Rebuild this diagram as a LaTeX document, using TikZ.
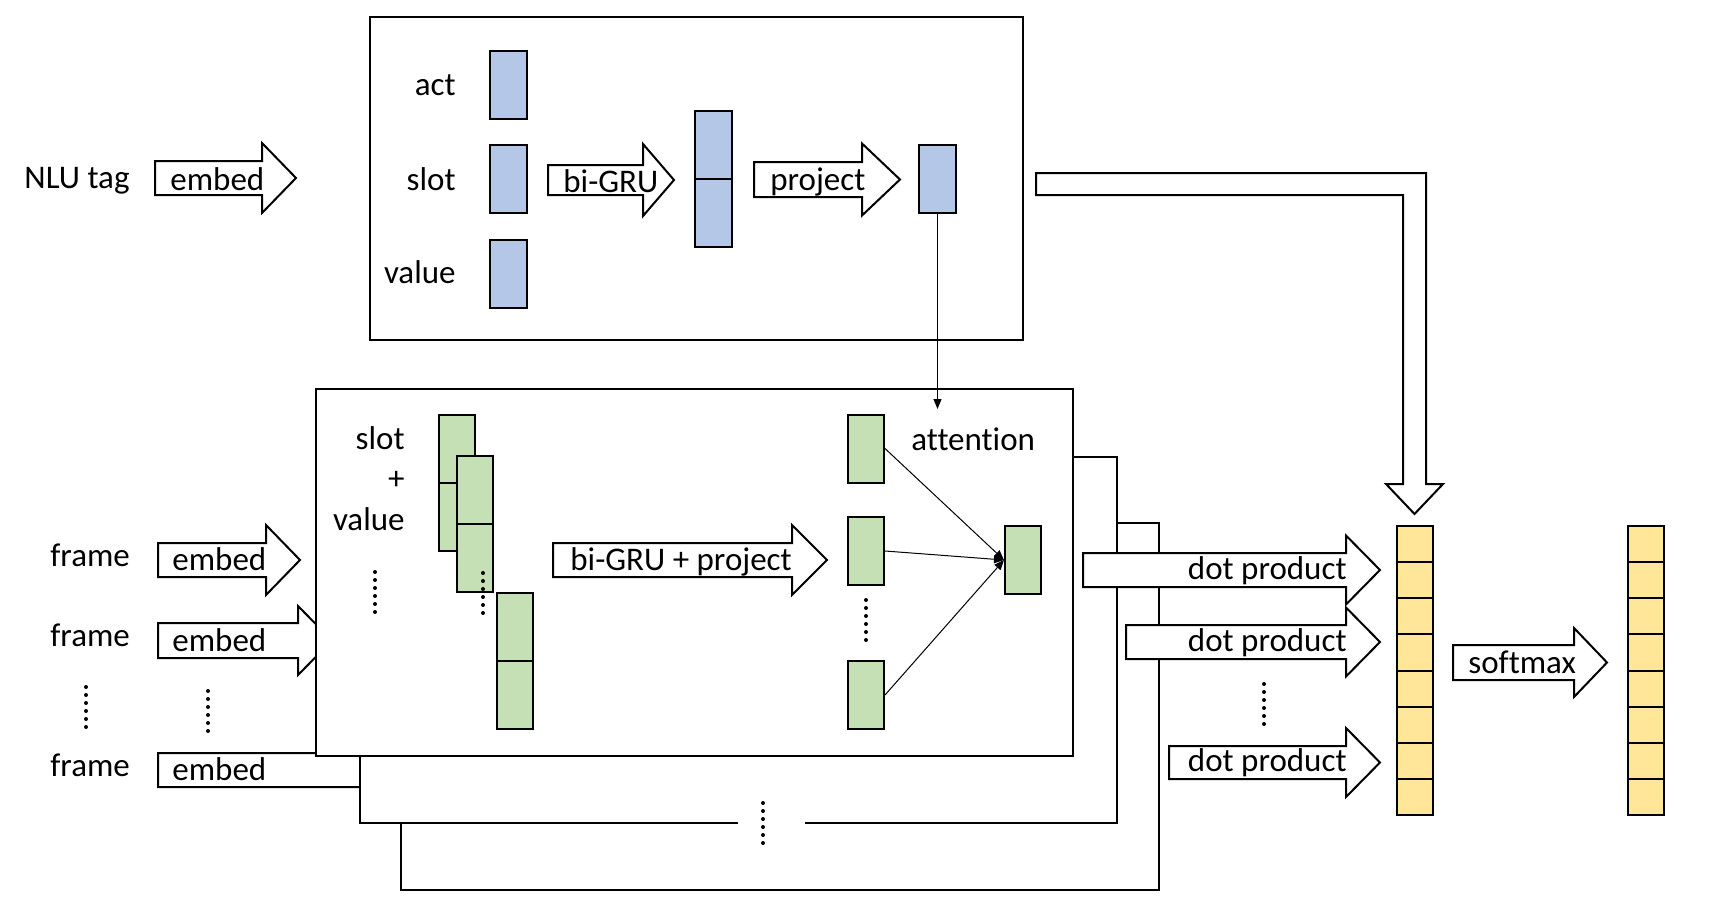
\documentclass[tikz,border=0pt]{standalone}
\usepackage{fontspec}
\setmainfont[Ligatures=NoCommon]{Carlito}
\usetikzlibrary{arrows.meta, positioning}
\definecolor{cellblue}{HTML}{B4C7E7}
\definecolor{cellgreen}{HTML}{C5E0B4}
\definecolor{cellyellow}{HTML}{FFE699}
\tikzset{
    panel/.style={draw, line width=1.2pt, fill=white},
    cell/.style={
        draw,
        line width=1pt,
        minimum width=18.5pt,
        minimum height=34pt,
        inner sep=0pt
    },
    bluecell/.style={cell, fill=cellblue},
    greencell/.style={cell, fill=cellgreen, minimum width=18pt},
    yellowcell/.style={cell, fill=cellyellow, minimum width=18pt, minimum height=18.06pt},
    fat/.style={draw, line width=1pt, fill=white},
    txt/.style={font=\fontsize{16.5}{19}\selectfont, inner sep=0pt},
    thinline/.style={-{Triangle[length=5pt,width=4pt]}, line width=0.5pt},
    dotcol/.style={line width=2pt, line cap=round, dash pattern=on 0pt off 4pt}
}
% block arrow: left, head base, tip, y centre, shaft half, head half
\newcommand{\fatarrow}[6]{%
  \draw[fat] (#1,#4-#5) -- (#2,#4-#5) -- (#2,#4-#6) -- (#3,#4) -- (#2,#4+#6) -- (#2,#4+#5) -- (#1,#4+#5) -- cycle;}
\begin{document}
\begin{tikzpicture}[x=0.5pt, y=-0.5pt]
\useasboundingbox (0,0) rectangle (1731,921);

% NLU tag encoder
\draw[panel] (370,17) rectangle (1023,340);
\node[txt, anchor=base] (nlutag) at (77,188) {NLU tag};
\fatarrow{155}{262}{296}{178}{17}{35}
\node[txt, anchor=base west] (embnlu) at (170,190) {embed};

\node[bluecell] (act) at (508.5,85) {};
\node[bluecell] (slot) at (508.5,179) {};
\node[bluecell] (value) at (508.5,273.5) {};
\node[txt, anchor=base east] at (456,95) {act};
\node[txt, anchor=base east] at (456,190.5) {slot};
\node[txt, anchor=base east] at (456,283) {value};

\fatarrow{548}{643}{674}{180}{15}{36}
\node[txt, anchor=base west] at (563,192) {bi-GRU};
\node[bluecell] (gru1) at (713.5,145) {};
\node[bluecell] (gru2) at (713.5,213) {};

\fatarrow{754}{862}{900}{179.5}{17.5}{36}
\node[txt, anchor=base west] at (770,190) {project};
\node[bluecell] (proj) at (937.5,179) {};

% tag vector to the scores
\draw[fat] (1036,173) -- (1426,173) -- (1426,484) -- (1443,484) -- (1414.5,514)
    -- (1386,484) -- (1403,484) -- (1403,195) -- (1036,195) -- cycle;

% frame encoders (stacked)
\fatarrow{158}{420}{454}{770}{17}{34}
\draw[panel] (401,523) rectangle (1159,890);
\fill[white] (360,457) rectangle (1117,823);
\draw[line width=1.2pt] (738,823) -- (360,823) -- (360,457) -- (1117,457) -- (1117,823) -- (805,823);
\draw[dotcol] (763,803) -- (763,843);
\fatarrow{158}{298}{332}{640.5}{17.5}{34.5}
\draw[panel] (316,389) rectangle (1073,756);
\fatarrow{158}{266}{300}{560}{17}{35}

\node[txt, anchor=base west] (frame1) at (50,566) {frame};
\node[txt, anchor=base west] (frame2) at (50,646) {frame};
\node[txt, anchor=base west] (frame3) at (50,776) {frame};
\node[txt, anchor=base west] at (172,570) {embed};
\node[txt, anchor=base west] at (172,651) {embed};
\node[txt, anchor=base west] at (172,780) {embed};
\draw[dotcol] (86,687) -- (86,727);
\draw[dotcol] (208,691) -- (208,731);

\node[txt, anchor=base east] at (405,449) {slot};
\node[txt, anchor=base east] at (405,489) {+};
\node[txt, anchor=base east] at (405,530) {value};
\draw[dotcol] (375,572) -- (375,612);

\node[greencell] (sv1a) at (457,448.5) {};
\node[greencell] (sv1b) at (457,517) {};
\node[greencell] (sv2a) at (475,489.5) {};
\node[greencell] (sv2b) at (475,558) {};
\draw[dotcol] (483,573) -- (483,613);
\node[greencell] (sv3a) at (515,626.5) {};
\node[greencell] (sv3b) at (515,695) {};

\fatarrow{553}{792}{827}{560}{17}{35}
\node[txt, anchor=base west] at (570,570) {bi-GRU + project};

\node[greencell] (h1) at (866,448.5) {};
\node[greencell] (h2) at (866,551) {};
\draw[dotcol] (866,600) -- (866,640);
\node[greencell] (h3) at (866,695) {};
\node[greencell] (hatt) at (1023,560) {};
\node[txt, anchor=base west] at (911,450) {attention};

\coordinate (attin) at (937.5,409);
\draw[thinline] (proj.south) -- (attin);
\draw[thinline] (h1.east) -- (hatt.west);
\draw[thinline] (h2.east) -- (hatt.west);
\draw[thinline] (h3.east) -- (hatt.west);

% scores and softmax
\fatarrow{1083}{1346}{1380}{570}{17}{34.5}
\fatarrow{1126}{1346}{1380}{642}{17}{34.5}
\fatarrow{1169}{1346}{1380}{762.5}{16.5}{34.5}
\node[txt, anchor=base east] at (1347,579) {dot product};
\node[txt, anchor=base east] at (1347,651) {dot product};
\node[txt, anchor=base east] at (1347,771) {dot product};
\draw[dotcol] (1264,684) -- (1264,724);

\foreach \i in {0,...,7} {
  \node[yellowcell] (score\i) at (1415,544.06+36.125*\i) {};
  \node[yellowcell] (prob\i) at (1645.5,544.06+36.125*\i) {};
}
\fatarrow{1453}{1574}{1607}{662.5}{17.5}{34.5}
\node[txt, anchor=base west] at (1468,673) {softmax};
\end{tikzpicture}
\end{document}
